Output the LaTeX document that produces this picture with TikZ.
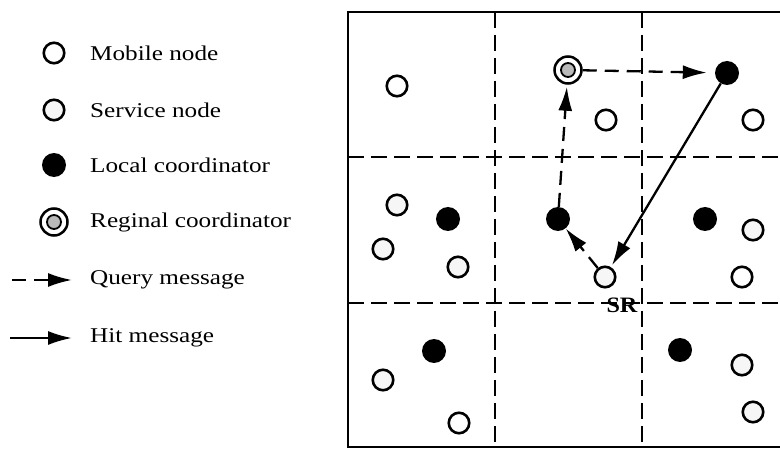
\documentclass[tikz,border=0pt]{standalone}
\usepackage{fontspec}
\setmainfont{Liberation Serif}
\usetikzlibrary{arrows.meta}
\tikzset{
  mob/.style={circle,draw=black,line width=2.6pt,fill=white,minimum size=20.5pt,inner sep=0pt},
  serv/.style={circle,draw=black,line width=2.6pt,fill=gray!7,minimum size=20.5pt,inner sep=0pt},
  loc/.style={circle,fill=black,minimum size=24pt,inner sep=0pt},
  reg/.style={circle,draw=black,line width=2.5pt,fill=white,minimum size=27pt,inner sep=0pt,
    path picture={\fill[gray!55,draw=black,line width=1.8pt] (path picture bounding box.center) circle (7pt);}},
  grid/.style={line width=2.5pt,dash pattern=on 16pt off 7pt},
  qmsg/.style={line width=2.3pt,dash pattern=on 14pt off 8pt,-{Latex[length=24pt,width=14pt]}},
  hmsg/.style={line width=2.3pt,-{Latex[length=24pt,width=14pt]}},
  lbl/.style={anchor=west,inner sep=0pt,font=\fontsize{21}{25}\selectfont},
}
\newcommand{\wide}[1]{\scalebox{1.2}[1]{#1}}
\begin{document}
\begin{tikzpicture}[x=1pt,y=-1pt]
\useasboundingbox (0,0) rectangle (780,449);
\clip (0,0) rectangle (780,449);
% legend
\node[mob] (lm) at (54,53) {};
\node[lbl] (tm) at (90,53) {\wide{Mobile node}};
\node[serv] (ls) at (54,110) {};
\node[lbl] (ts) at (90,110) {\wide{Service node}};
\node[loc] (ll) at (54,165) {};
\node[lbl] (tl) at (90,165) {\wide{Local coordinator}};
\node[reg] (lr) at (54,222) {};
\node[lbl] (tr) at (90,222) {\wide{Reginal coordinator}};
\coordinate (qa) at (12,280);
\coordinate (qb) at (72,280);
\draw[qmsg] (qa) -- (qb);
\node[lbl] (tq) at (90,280) {\wide{Query message}};
\coordinate (ha) at (10,338);
\coordinate (hb) at (72,338);
\draw[hmsg] (ha) -- (hb);
\node[lbl] (th) at (90,338) {\wide{Hit message}};
% grid
\draw[line width=2.5pt] (790,12) -- (348,12) -- (348,447) -- (790,447);
\draw[grid] (495,12) -- (495,447);
\draw[grid] (642,12) -- (642,447);
\draw[grid] (348,157) -- (790,157);
\draw[grid] (348,303) -- (790,303);
% nodes
\node[mob] (m1) at (397,86) {};
\node[reg] (R) at (568,70) {};
\node[loc] (L1) at (727,73) {};
\node[mob] (m2) at (606,120) {};
\node[mob] (m3) at (753,120) {};
\node[serv] (s1) at (397,205) {};
\node[loc] (L2) at (448,219) {};
\node[serv] (s2) at (383,249) {};
\node[serv] (s3) at (458,267) {};
\node[loc] (L3) at (558,219) {};
\node[serv] (SR) at (605,277) {};
\node[font=\fontsize{22}{25}\selectfont\bfseries,inner sep=0pt] (srl) at (622,305) {\scalebox{1.1}[1]{SR}};
\node[loc] (L4) at (705,219) {};
\node[serv] (s4) at (753,230) {};
\node[mob] (m4) at (742,277) {};
\node[loc] (L5) at (434,351) {};
\node[serv] (s5) at (383,380) {};
\node[mob] (m5) at (459,423) {};
\node[loc] (L6) at (680,350) {};
\node[serv] (s6) at (742,365) {};
\node[serv] (s7) at (753,412) {};
% messages
\draw[qmsg] (SR) -- (L3);
\draw[qmsg,shorten >=2pt] (L3) -- (R);
\draw[qmsg,shorten >=8pt] (R) -- (L1);
\draw[hmsg,shorten >=2pt] (L1) -- (SR);
\end{tikzpicture}
\end{document}
